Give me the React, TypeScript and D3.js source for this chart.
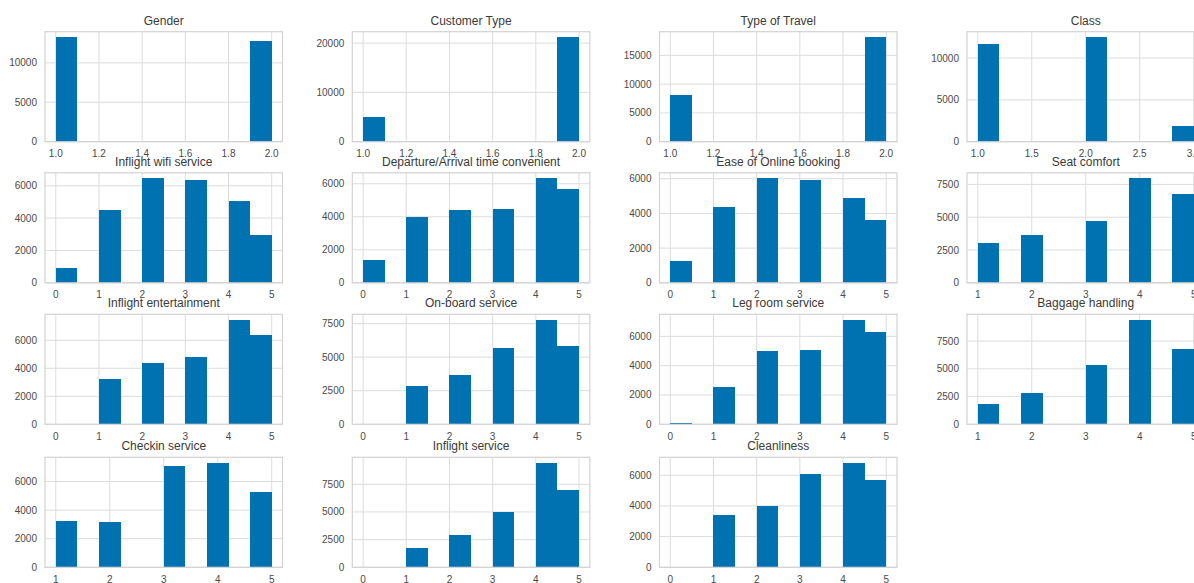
import React from "react";
import * as d3 from "d3";

// Histogram counts (10 equal-width bins over each column's value range)
const titles = [
  "Gender", "Customer Type", "Type of Travel", "Class",
  "Inflight wifi service", "Departure/Arrival time convenient", "Ease of Online booking", "Seat comfort",
  "Inflight entertainment", "On-board service", "Leg room service", "Baggage handling",
  "Checkin service", "Inflight service", "Cleanliness",
];

const ranges: [number, number][] = [
  [1, 2], [1, 2], [1, 2], [1, 3],
  [0, 5], [0, 5], [0, 5], [1, 5],
  [0, 5], [0, 5], [0, 5], [1, 5],
  [1, 5], [0, 5], [0, 5],
];

const counts: number[][] = [
  [13290, 0, 0, 0, 0, 0, 0, 0, 0, 12790],
  [4950, 0, 0, 0, 0, 0, 0, 0, 0, 21250],
  [8100, 0, 0, 0, 0, 0, 0, 0, 0, 18200],
  [11650, 0, 0, 0, 0, 12530, 0, 0, 0, 1850],
  [930, 0, 4490, 0, 6476, 0, 6331, 0, 5028, 2959],
  [1400, 0, 3966, 0, 4414, 0, 4495, 0, 6346, 5675],
  [1250, 0, 4385, 0, 6040, 0, 5942, 0, 4885, 3615],
  [3072, 0, 3660, 0, 0, 4684, 0, 7986, 0, 6758],
  [4, 0, 3216, 0, 4368, 0, 4800, 0, 7480, 6408],
  [1, 0, 2885, 0, 3637, 0, 5669, 0, 7801, 5844],
  [115, 0, 2575, 0, 5034, 0, 5050, 0, 7149, 6299],
  [1852, 0, 2854, 0, 0, 5314, 0, 9443, 0, 6771],
  [3268, 0, 3198, 0, 0, 7074, 0, 7331, 0, 5253],
  [1, 0, 1784, 0, 2903, 0, 5020, 0, 9466, 7016],
  [1, 0, 3438, 0, 4007, 0, 6109, 0, 6832, 5715],
];

const yTicks: number[][] = [
  [0, 5000, 10000], [0, 10000, 20000], [0, 5000, 10000, 15000], [0, 5000, 10000],
  [0, 2000, 4000, 6000], [0, 2000, 4000, 6000], [0, 2000, 4000, 6000], [0, 2500, 5000, 7500],
  [0, 2000, 4000, 6000], [0, 2500, 5000, 7500], [0, 2000, 4000, 6000], [0, 2500, 5000, 7500],
  [0, 2000, 4000, 6000], [0, 2500, 5000, 7500], [0, 2000, 4000, 6000],
];

const binaryTicks = [1.0, 1.2, 1.4, 1.6, 1.8, 2.0];
const classTicks = [1.0, 1.5, 2.0, 2.5, 3.0];
const rating0Ticks = [0, 1, 2, 3, 4, 5];
const rating1Ticks = [1, 2, 3, 4, 5];
const xTicks: number[][] = [
  binaryTicks, binaryTicks, binaryTicks, classTicks,
  rating0Ticks, rating0Ticks, rating0Ticks, rating1Ticks,
  rating0Ticks, rating0Ticks, rating0Ticks, rating1Ticks,
  rating1Ticks, rating0Ticks, rating0Ticks,
];
const xTickFormat = ["1f", "1f", "1f", "1f", "d", "d", "d", "d", "d", "d", "d", "d", "d", "d", "d"];

const W = 1194;
const H = 583;
const colLeft = [45, 352.3, 659.5, 967];
const rowTop = [31.7, 172.8, 314.3, 457.3];
const PW = 237.5;
const PH = 110;
const BAR = "#0072b2";
const GRID = "#dcdcdc";
const TEXT = "#4a4a4a";
const FONT = "'Liberation Sans', Arial, Helvetica, sans-serif";

function Panel({ i }: { i: number }) {
  const left = colLeft[i % 4];
  const top = rowTop[Math.floor(i / 4)];
  const [lo, hi] = ranges[i];
  const span = hi - lo;
  const x = d3.scaleLinear().domain([lo - span * 0.05, hi + span * 0.05]).range([0, PW]);
  const ymax = d3.max(counts[i])! * 1.05;
  const y = d3.scaleLinear().domain([0, ymax]).range([PH, 0]);
  const binW = span / counts[i].length;
  const fmt = xTickFormat[i] === "1f" ? d3.format(".1f") : d3.format("d");
  return (
    <g transform={`translate(${left},${top})`}>
      <rect x={0} y={0} width={PW} height={PH} fill="#ffffff" />
      {xTicks[i].map((t) => (
        <line key={"gx" + t} x1={x(t)} x2={x(t)} y1={0} y2={PH} stroke={GRID} strokeWidth={1} />
      ))}
      {yTicks[i].map((t) => (
        <line key={"gy" + t} x1={0} x2={PW} y1={y(t)} y2={y(t)} stroke={GRID} strokeWidth={1} />
      ))}
      {counts[i].map((c, k) => {
        if (c <= 0) return null;
        const x0 = x(lo + k * binW);
        const x1 = x(lo + (k + 1) * binW);
        return (
          <rect key={"b" + k} x={x0} y={y(c)} width={x1 - x0} height={PH - y(c)}
            fill={BAR} shapeRendering="crispEdges" />
        );
      })}
      <rect x={0} y={0} width={PW} height={PH} fill="none" stroke="#d2d2d2" strokeWidth={1.2} />
      {xTicks[i].map((t) => (
        <text key={"tx" + t} x={x(t)} y={PH + 15.5} textAnchor="middle" fontSize={10} fill={TEXT} fontFamily={FONT}>
          {fmt(t)}
        </text>
      ))}
      {yTicks[i].map((t) => (
        <text key={"ty" + t} x={-8} y={y(t)} dy="0.35em" textAnchor="end" fontSize={10} fill={TEXT} fontFamily={FONT}>
          {t}
        </text>
      ))}
      <text x={PW / 2} y={-7} textAnchor="middle" fontSize={12} fill="#3a3a3a" fontFamily={FONT}>
        {titles[i]}
      </text>
    </g>
  );
}

export default function App() {
  return (
    <div style={{ position: "fixed", left: 0, top: 0, width: W, height: H, overflow: "hidden", background: "#fff" }}>
      <svg width={W} height={H} style={{ display: "block" }}>
        <rect width={W} height={H} fill="#ffffff" />
        {titles.map((_, i) => (
          <Panel key={i} i={i} />
        ))}
      </svg>
    </div>
  );
}
